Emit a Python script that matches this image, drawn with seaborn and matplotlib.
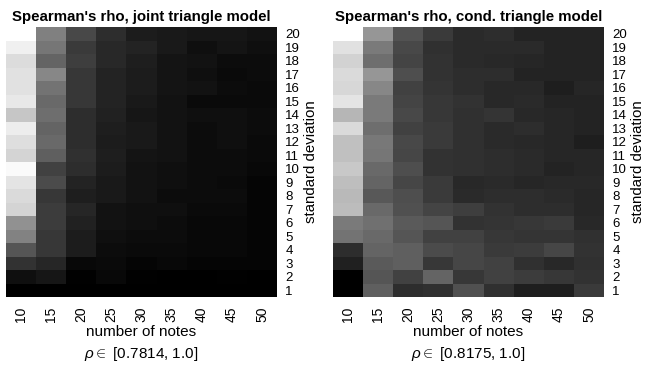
import matplotlib
matplotlib.use("Agg")
import matplotlib.pyplot as plt
import seaborn as sns
import pandas as pd

notes = [10, 15, 20, 25, 30, 35, 40, 45, 50]
std_devs = [20, 19, 18, 17, 16, 15, 14, 13, 12, 11, 10, 9, 8, 7, 6, 5, 4, 3, 2, 1]

# rho per (std dev row, number of notes column), top row = sd 20
joint_rho = [
    [1.0000, 0.8911, 0.8431, 0.8200, 0.8054, 0.8028, 0.8003, 0.8003, 0.7968],
    [0.9871, 0.8826, 0.8311, 0.8157, 0.8114, 0.8028, 0.7943, 0.7985, 0.7943],
    [0.9700, 0.8671, 0.8345, 0.8157, 0.8071, 0.7985, 0.7968, 0.7917, 0.7917],
    [0.9743, 0.8971, 0.8285, 0.8114, 0.8054, 0.7985, 0.7943, 0.7900, 0.7917],
    [0.9743, 0.8800, 0.8285, 0.8114, 0.8054, 0.7985, 0.7968, 0.7917, 0.7900],
    [0.9803, 0.8714, 0.8285, 0.8114, 0.8028, 0.7968, 0.7900, 0.7900, 0.7900],
    [0.9511, 0.8757, 0.8200, 0.8097, 0.8003, 0.7968, 0.7943, 0.7943, 0.7917],
    [0.9846, 0.8671, 0.8200, 0.8071, 0.8028, 0.7968, 0.7917, 0.7943, 0.7917],
    [0.9717, 0.8714, 0.8200, 0.8054, 0.8028, 0.7968, 0.7917, 0.7943, 0.7900],
    [0.9631, 0.8628, 0.8225, 0.8071, 0.7985, 0.7968, 0.7917, 0.7917, 0.7900],
    [0.9957, 0.8371, 0.8200, 0.8054, 0.7968, 0.7943, 0.7917, 0.7917, 0.7883],
    [0.9768, 0.8457, 0.8114, 0.8028, 0.7968, 0.7943, 0.7917, 0.7900, 0.7857],
    [0.9683, 0.8285, 0.8071, 0.8028, 0.7968, 0.7917, 0.7917, 0.7917, 0.7857],
    [0.9631, 0.8328, 0.8140, 0.7968, 0.7943, 0.7943, 0.7900, 0.7900, 0.7857],
    [0.9057, 0.8328, 0.8097, 0.7968, 0.7943, 0.7917, 0.7883, 0.7883, 0.7857],
    [0.8928, 0.8285, 0.8054, 0.7943, 0.7917, 0.7917, 0.7883, 0.7883, 0.7857],
    [0.8543, 0.8285, 0.8054, 0.7917, 0.7900, 0.7900, 0.7883, 0.7883, 0.7857],
    [0.8243, 0.8140, 0.7883, 0.7900, 0.7857, 0.7883, 0.7857, 0.7857, 0.7857],
    [0.7943, 0.8003, 0.7831, 0.7883, 0.7831, 0.7814, 0.7814, 0.7831, 0.7814],
    [0.7814, 0.7814, 0.7814, 0.7814, 0.7814, 0.7814, 0.7814, 0.7814, 0.7814],
]

cond_rho = [
    [1.0000, 0.9249, 0.8762, 0.8590, 0.8476, 0.8497, 0.8425, 0.8425, 0.8425],
    [0.9785, 0.9048, 0.8690, 0.8519, 0.8476, 0.8476, 0.8476, 0.8425, 0.8425],
    [0.9678, 0.8962, 0.8662, 0.8533, 0.8476, 0.8461, 0.8447, 0.8425, 0.8425],
    [0.9735, 0.9249, 0.8733, 0.8533, 0.8497, 0.8497, 0.8425, 0.8425, 0.8425],
    [0.9714, 0.9141, 0.8640, 0.8547, 0.8497, 0.8461, 0.8461, 0.8390, 0.8447],
    [0.9807, 0.9048, 0.8662, 0.8569, 0.8533, 0.8461, 0.8476, 0.8425, 0.8425],
    [0.9478, 0.9048, 0.8690, 0.8569, 0.8519, 0.8547, 0.8461, 0.8447, 0.8425],
    [0.9735, 0.8962, 0.8640, 0.8590, 0.8519, 0.8476, 0.8497, 0.8447, 0.8425],
    [0.9549, 0.9034, 0.8690, 0.8590, 0.8519, 0.8476, 0.8461, 0.8447, 0.8390],
    [0.9549, 0.9020, 0.8676, 0.8533, 0.8519, 0.8497, 0.8476, 0.8447, 0.8447],
    [0.9606, 0.8926, 0.8733, 0.8533, 0.8519, 0.8497, 0.8476, 0.8425, 0.8447],
    [0.9535, 0.8891, 0.8676, 0.8590, 0.8461, 0.8476, 0.8447, 0.8461, 0.8461],
    [0.9499, 0.8805, 0.8733, 0.8590, 0.8476, 0.8497, 0.8497, 0.8476, 0.8447],
    [0.9521, 0.8926, 0.8748, 0.8662, 0.8619, 0.8533, 0.8497, 0.8497, 0.8447],
    [0.9048, 0.8977, 0.8819, 0.8783, 0.8533, 0.8547, 0.8569, 0.8590, 0.8461],
    [0.8998, 0.8926, 0.8783, 0.8640, 0.8640, 0.8569, 0.8547, 0.8547, 0.8519],
    [0.8497, 0.8891, 0.8855, 0.8712, 0.8676, 0.8590, 0.8604, 0.8676, 0.8533],
    [0.8404, 0.8819, 0.8855, 0.8569, 0.8676, 0.8640, 0.8519, 0.8461, 0.8519],
    [0.8175, 0.8783, 0.8640, 0.8891, 0.8569, 0.8640, 0.8604, 0.8569, 0.8533],
    [0.8175, 0.8855, 0.8497, 0.8519, 0.8748, 0.8519, 0.8390, 0.8390, 0.8590],
]

panels = [
    ("Spearman's rho, joint triangle model", joint_rho, 0.7814, 1.0),
    ("Spearman's rho, cond. triangle model", cond_rho, 0.8175, 1.0),
]

sns.set_style("white")
plt.rcParams['font.family'] = ['Liberation Sans', 'DejaVu Sans']
plt.rcParams['mathtext.fontset'] = 'custom'
plt.rcParams['mathtext.rm'] = 'Liberation Sans'
plt.rcParams['mathtext.it'] = 'Liberation Sans:italic'
for key in ['text.color', 'axes.labelcolor', 'xtick.color', 'ytick.color']:
    plt.rcParams[key] = 'black'

W, H = 645, 367
fig = plt.figure(figsize=(W / 100, H / 100), dpi=100)
lefts = [6, 333]

for (title, vals, lo, hi), left in zip(panels, lefts):
    ax = fig.add_axes([left / W, (H - 297) / H, 271 / W, 270 / H])
    df = pd.DataFrame(vals, index=std_devs, columns=notes)
    sns.heatmap(df, ax=ax, cmap='gray', vmin=lo, vmax=hi, cbar=False,
                xticklabels=True, yticklabels=True)
    ax.set_title(title, fontsize=10.8, fontweight='bold', pad=4)
    ax.yaxis.tick_right()
    ax.yaxis.set_label_position('right')
    ax.tick_params(axis='x', length=0, labelsize=10, pad=7)
    ax.tick_params(axis='y', length=0, labelsize=9.5, pad=6)
    plt.setp(ax.get_yticklabels(), rotation=0, ha='left')
    plt.setp(ax.get_xticklabels(), rotation=90)
    ax.set_ylabel("standard deviation", fontsize=10.8, labelpad=3)
    ax.set_xlabel("number of notes", fontsize=11, labelpad=2)
    ax.text(0.5, -0.178, r"$\rho\in$ [%.4g, %.1f]" % (lo, hi),
            transform=ax.transAxes, ha='center', va='top', fontsize=11)
    for s in ax.spines.values():
        s.set_visible(False)

fig.savefig("out.png", dpi=100)
